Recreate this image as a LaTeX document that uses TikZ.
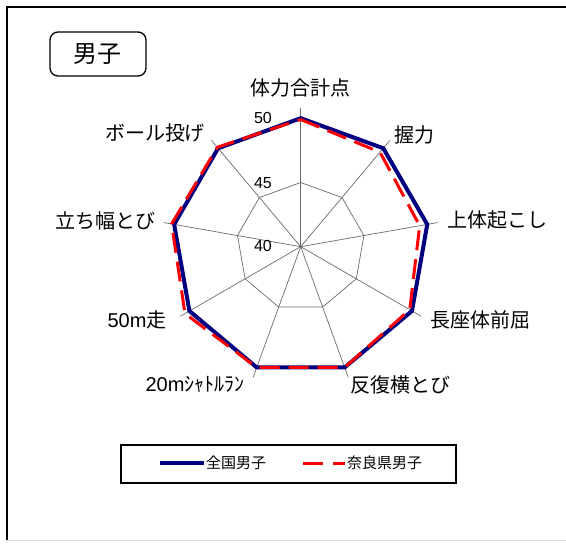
\documentclass[tikz,border=0pt]{standalone}
\usepackage{fontspec}
\setmainfont{Noto Sans CJK JP}
\newfontfamily\latinsans{Liberation Sans}
\definecolor{navy}{RGB}{0,0,128}
\begin{document}
\begin{tikzpicture}[x=1pt,y=-1pt,
  gridline/.style={draw=gray!85!black, line width=0.7pt},
  natl/.style={draw=navy, line width=4pt, line join=miter},
  nara/.style={draw=red, line width=3pt, dash pattern=on 20pt off 9pt, line join=miter},
  axlabel/.style={font=\fontsize{20}{24}\selectfont, inner sep=0pt},
  scalelabel/.style={font=\latinsans\fontsize{16}{18}\selectfont, inner sep=0pt, anchor=east},
  legtext/.style={font=\fontsize{15}{18}\selectfont, inner sep=0pt, anchor=west}]
\useasboundingbox (0,0) rectangle (566,547);
\fill[white] (0,0) rectangle (566,547);
% frame
\draw[line width=1.5pt] (7,540) -- (7,7) -- (566,7);
\draw[gray!25, line width=1pt] (7,540) -- (566,540);
% title box
\node[draw, line width=1.3pt, rounded corners=8pt, minimum width=96pt, minimum height=44pt,
      font=\fontsize{24}{28}\selectfont, inner sep=0pt] (title) at (98,54) {男子};
% radar geometry
\coordinate (C) at (300.7,246.7);
\foreach \k in {0,...,8}{
  \coordinate (g45-\k) at ({300.7+64.2*sin(40*\k)},{246.7-64.2*cos(40*\k)});
  \coordinate (g50-\k) at ({300.7+128.5*sin(40*\k)},{246.7-128.5*cos(40*\k)});
  \coordinate (ax-\k) at ({300.7+139*sin(40*\k)},{246.7-139*cos(40*\k)});
}
\foreach \k/\v in {0/49.9,1/49.6,2/49.4,3/49.8,4/50.0,5/50.0,6/50.4,7/50.2,8/50.1}{
  \coordinate (r-\k) at ({300.7+(\v-40)*12.85*sin(40*\k)},{246.7-(\v-40)*12.85*cos(40*\k)});
}
% grid
\foreach \k in {0,...,8}{ \draw[gridline] (C) -- (ax-\k); }
\draw[gridline] (g45-0) -- (g45-1) -- (g45-2) -- (g45-3) -- (g45-4) -- (g45-5) -- (g45-6) -- (g45-7) -- (g45-8) -- cycle;
\draw[gridline] (g50-0) -- (g50-1) -- (g50-2) -- (g50-3) -- (g50-4) -- (g50-5) -- (g50-6) -- (g50-7) -- (g50-8) -- cycle;
% scale labels
\node[scalelabel] (s50) at (272,118) {50};
\node[scalelabel] (s45) at (272,183) {45};
\node[scalelabel] (s40) at (272,246) {40};
% data
\draw[natl] (g50-0) -- (g50-1) -- (g50-2) -- (g50-3) -- (g50-4) -- (g50-5) -- (g50-6) -- (g50-7) -- (g50-8) -- cycle;
\draw[nara] (r-0) -- (r-1) -- (r-2) -- (r-3) -- (r-4) -- (r-5) -- (r-6) -- (r-7) -- (r-8) -- cycle;
% axis labels
\node[axlabel] (l0) at (300,88) {体力合計点};
\node[axlabel] (l1) at (414,135) {握力};
\node[axlabel] (l2) at (497,220) {上体起こし};
\node[axlabel] (l3) at (480,320) {長座体前屈};
\node[axlabel] (l4) at (400,385) {反復横とび};
\node[axlabel] (l5) at (195,384) {{\latinsans 20m}ｼｬﾄﾙﾗﾝ};
\node[axlabel] (l6) at (137,320) {{\latinsans 50m}走};
\node[axlabel] (l7) at (106,221) {立ち幅とび};
\node[axlabel] (l8) at (155,133) {ボール投げ};
% legend
\node[draw, line width=2pt, minimum width=335pt, minimum height=38pt, inner sep=0pt] (legend) at (288.3,464) {};
\coordinate (nb1) at (160,463);
\coordinate (nb2) at (204,463);
\coordinate (rb1) at (303,463);
\coordinate (rb2) at (345,463);
\draw[natl, line cap=butt] (nb1) -- (nb2);
\draw[nara, dash pattern=on 20pt off 10pt] (rb1) -- (rb2);
\node[legtext] (t1) at (206,463) {全国男子};
\node[legtext] (t2) at (347,463) {奈良県男子};
\end{tikzpicture}
\end{document}
